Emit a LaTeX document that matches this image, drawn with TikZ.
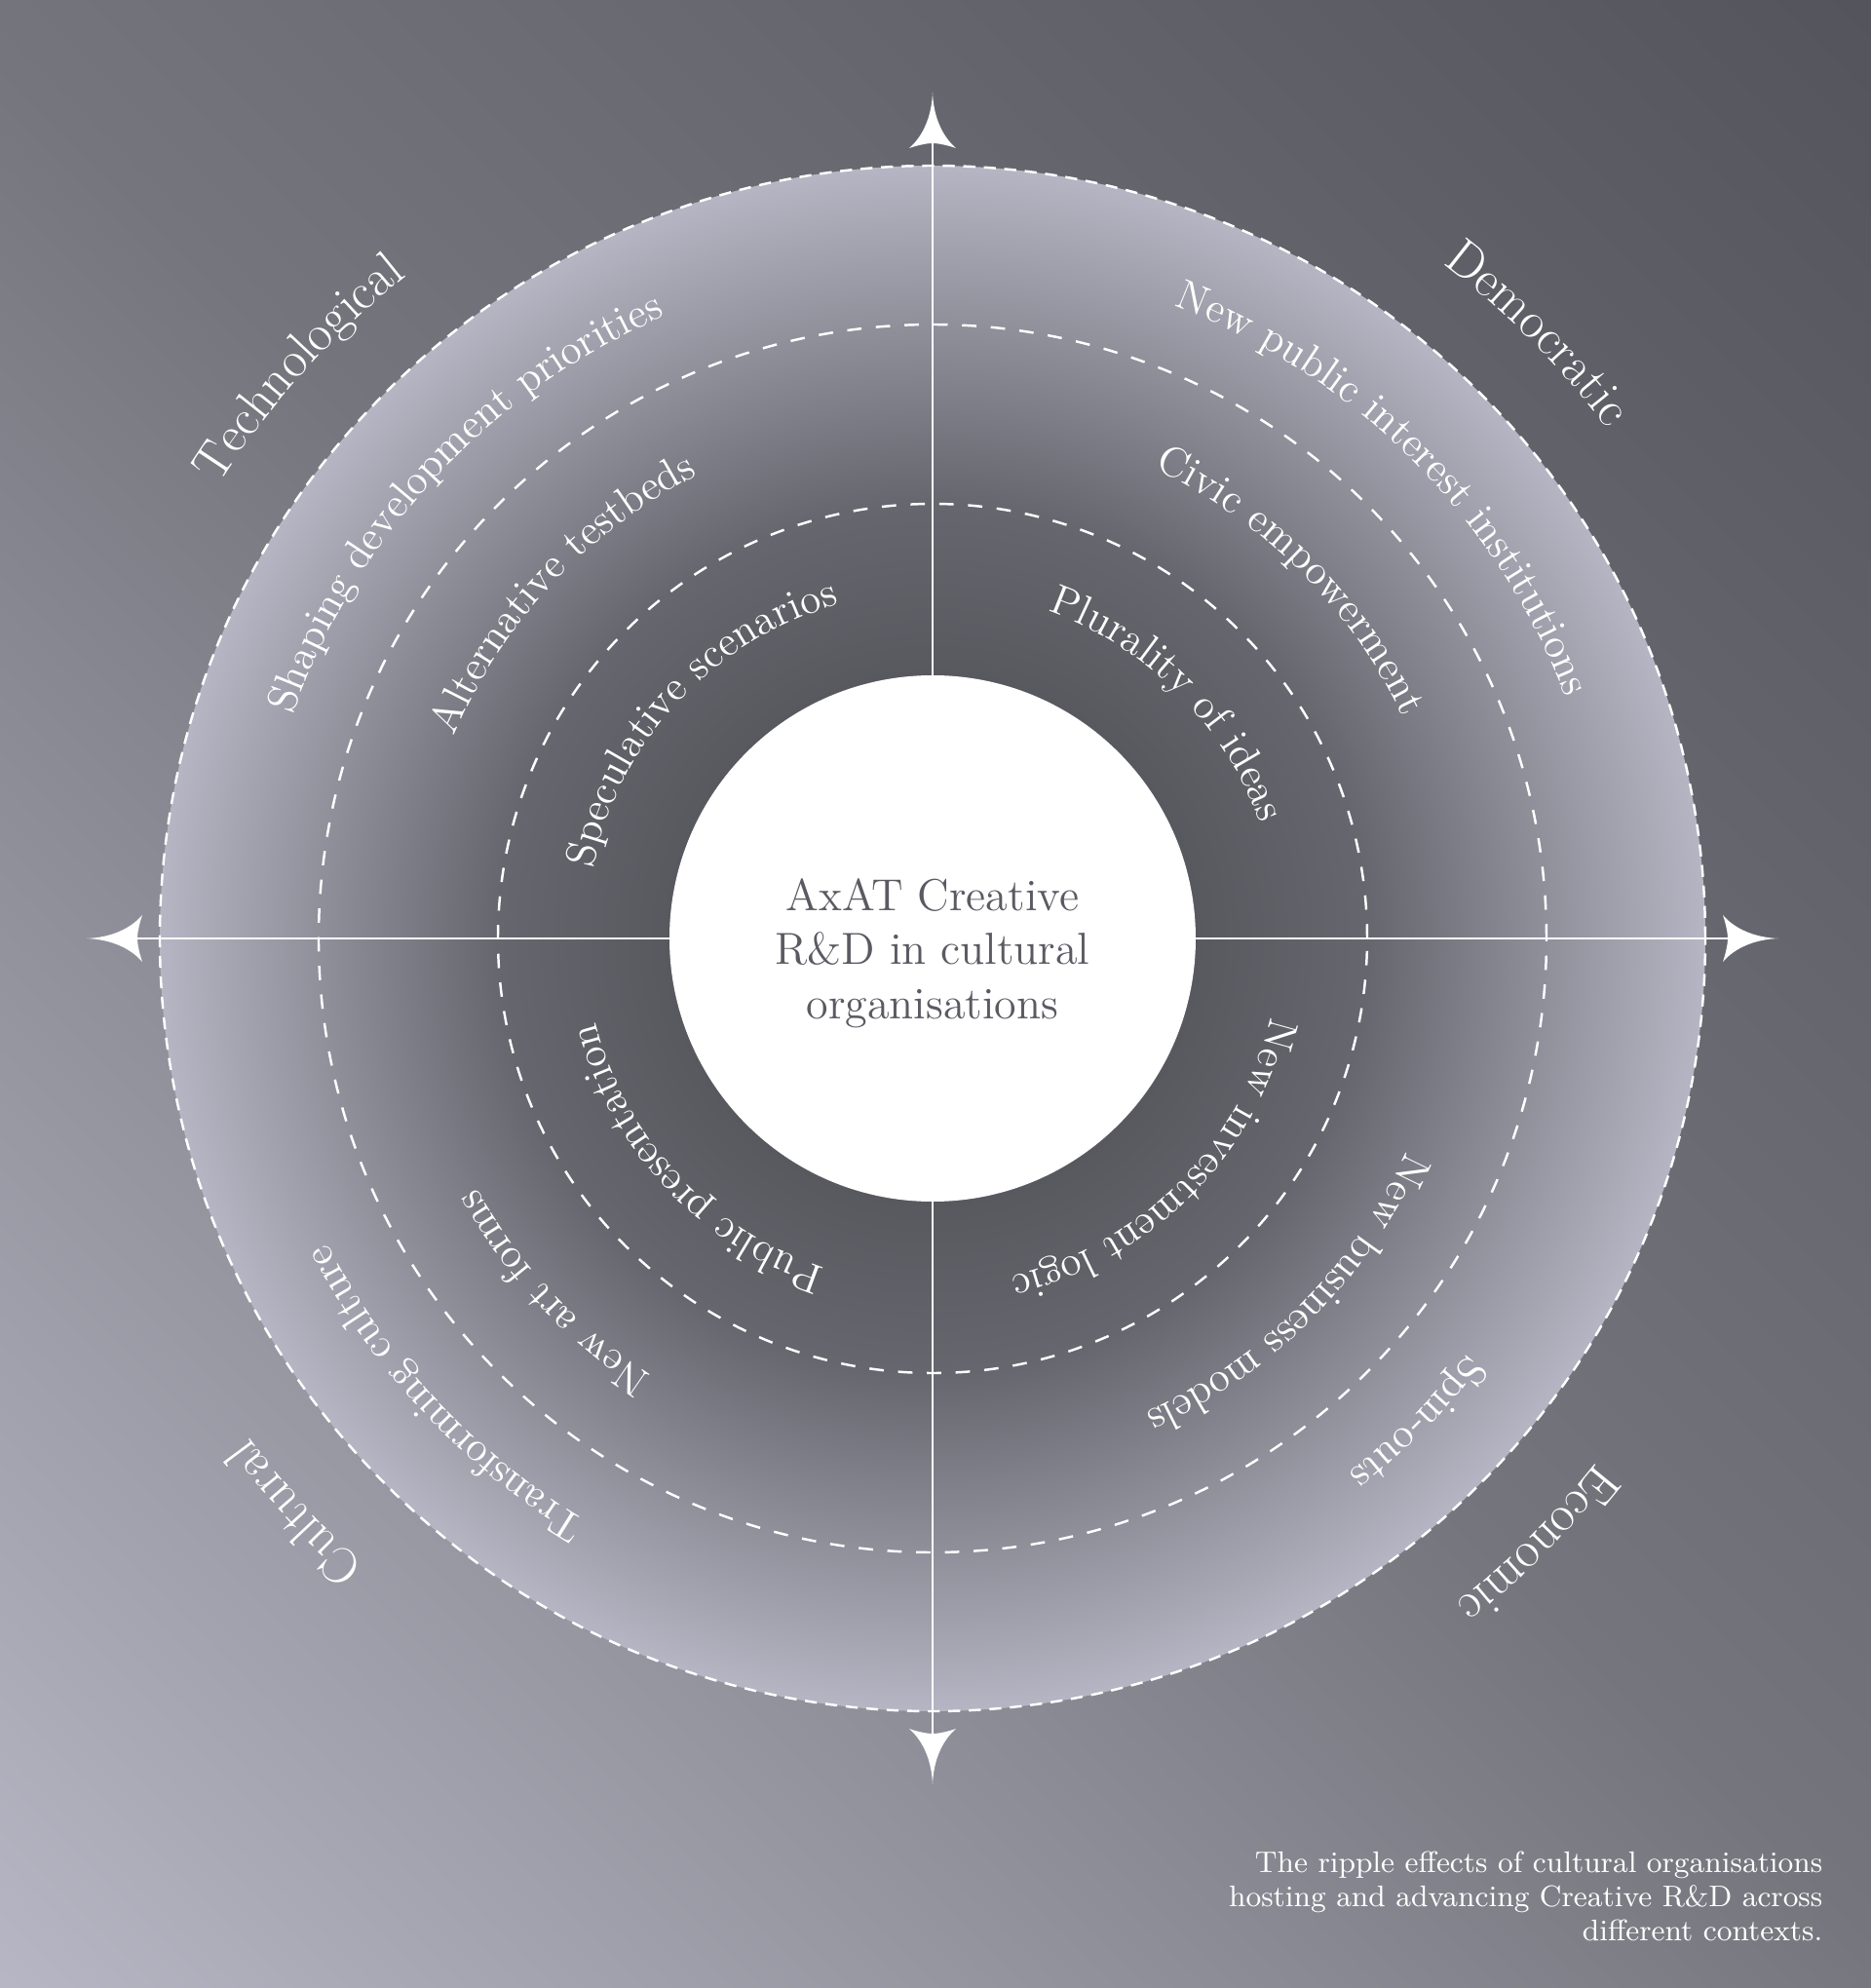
\documentclass[tikz,border=0pt]{standalone}
\usepackage{fontspec}
\usepackage{xcolor}
\usepackage{tikz}
\usetikzlibrary{decorations.text}
\definecolor{bglight}{HTML}{B6B6C4}
\definecolor{bgmid}{HTML}{75757D}
\definecolor{bgdark}{HTML}{54545C}
\definecolor{discdark}{HTML}{58585F}
\definecolor{discmid}{HTML}{66666E}
\definecolor{discedge}{HTML}{B5B5C3}
\definecolor{ink}{HTML}{5A5A62}
\definecolor{chalk}{HTML}{FFFFFF}
\pgfdeclarehorizontalshading{bgfade}{100bp}{color(0bp)=(bglight); color(14.6bp)=(bglight); color(50bp)=(bgmid); color(85.4bp)=(bgdark); color(100bp)=(bgdark)}
\pgfdeclareradialshading{discfade}{\pgfpointorigin}{color(0bp)=(discdark); color(8.5bp)=(discdark); color(14.06bp)=(discmid); color(25bp)=(discedge); color(50bp)=(discedge)}
\newcommand\catfont{\fontsize{15}{18}\selectfont}
\newcommand\labfont{\fontsize{12.3}{14}\selectfont}
\tikzset{
  axis/.style={draw=chalk, line width=0.85pt},
  rim/.style={draw=chalk, line width=0.7pt, dash pattern=on 3.5pt off 2.5pt},
  ring/.style={draw=chalk, line width=0.7pt, dash pattern=on 4.2pt off 4.2pt},
  hub/.style={circle, fill=chalk, minimum size=5.4cm, inner sep=0pt},
  hubtext/.style={text=ink, align=center, font=\fontsize{13.1}{15.8}\selectfont},
  note/.style={text=chalk, align=right, inner sep=0pt, font=\fontsize{8.7}{10}\selectfont},
  cat/.style={decorate, decoration={text along path, text color=chalk, text align=center, text={|\catfont|#1}}},
  lab/.style={decorate, decoration={text along path, text color=chalk, text align=center, text={|\labfont|#1}}},
  vane/.pic={
    \fill[chalk] (0,0) .. controls (-0.25,0.01) and (-0.45,0.10) .. (-0.57,0.24)
      .. controls (-0.53,0.12) and (-0.52,0.04) .. (-0.52,0)
      .. controls (-0.52,-0.04) and (-0.53,-0.12) .. (-0.57,-0.24)
      .. controls (-0.45,-0.10) and (-0.25,-0.01) .. cycle;
  },
}
\begin{document}
\begin{tikzpicture}
  \def\rout{7.93}
  \def\rmid{6.30}
  \def\rin{4.46}
  \def\rcat{8.68}
  \def\rb{6.95}
  \def\rc{5.33}
  \def\rd{3.56}
  \useasboundingbox (-9.57,-10.77) rectangle (9.63,9.63);
  % backdrop and ripple disc
  \shade[shading=bgfade, shading angle=45] (-9.57,-10.77) rectangle (9.63,9.63);
  \shade[shading=discfade] (0,0) circle (\rout);
  \draw[rim] (0,0) circle (\rout);
  \draw[ring] (0,0) circle (\rmid);
  \draw[ring] (0,0) circle (\rin);
  % axes
  \coordinate (N) at (0,8.68);
  \coordinate (S) at (0,-8.68);
  \coordinate (E) at (8.68,0);
  \coordinate (W) at (-8.68,0);
  \draw[axis, shorten <=4mm, shorten >=4mm] (W) -- (E);
  \draw[axis, shorten <=4mm, shorten >=4mm] (S) -- (N);
  \pic[rotate=90] at (N) {vane};
  \pic[rotate=-90] at (S) {vane};
  \pic at (E) {vane};
  \pic[rotate=180] at (W) {vane};
  % centre
  \node[hub] (hub) at (0,0) {};
  \node[hubtext] (title) at (0,-0.15) {AxAT Creative\\R\&D in cultural\\organisations};
  % technological
  \path[cat={Technological}] (183:\rcat) arc[start angle=183, end angle=93, radius=\rcat];
  \path[lab={Shaping development priorities}] (182:\rb) arc[start angle=182, end angle=92, radius=\rb];
  \path[lab={Alternative testbeds}] (182:\rc) arc[start angle=182, end angle=92, radius=\rc];
  \path[lab={Speculative scenarios}] (182:\rd) arc[start angle=182, end angle=92, radius=\rd];
  % democratic
  \path[cat={Democratic}] (90:\rcat) arc[start angle=90, end angle=0, radius=\rcat];
  \path[lab={New public interest institutions}] (90:\rb) arc[start angle=90, end angle=0, radius=\rb];
  \path[lab={Civic empowerment}] (90:\rc) arc[start angle=90, end angle=0, radius=\rc];
  \path[lab={Plurality of ideas}] (90:\rd) arc[start angle=90, end angle=0, radius=\rd];
  % economic
  \path[cat={Economic}] (0:\rcat) arc[start angle=0, end angle=-90, radius=\rcat];
  \path[lab={Spin-outs}] (0:\rb) arc[start angle=0, end angle=-90, radius=\rb];
  \path[lab={New business models}] (0:\rc) arc[start angle=0, end angle=-90, radius=\rc];
  \path[lab={New investment logic}] (0:\rd) arc[start angle=0, end angle=-90, radius=\rd];
  % cultural
  \path[cat={Cultural}] (267:\rcat) arc[start angle=267, end angle=177, radius=\rcat];
  \path[lab={Transforming culture}] (268:\rb) arc[start angle=268, end angle=178, radius=\rb];
  \path[lab={New art forms}] (268:\rc) arc[start angle=268, end angle=178, radius=\rc];
  \path[lab={Public presentation}] (268:\rd) arc[start angle=268, end angle=178, radius=\rd];
  \node[note, anchor=north east] (note) at (9.14,-9.36) {The ripple effects of cultural organisations\\hosting and advancing Creative R\&D across\\different contexts.};
\end{tikzpicture}
\end{document}
